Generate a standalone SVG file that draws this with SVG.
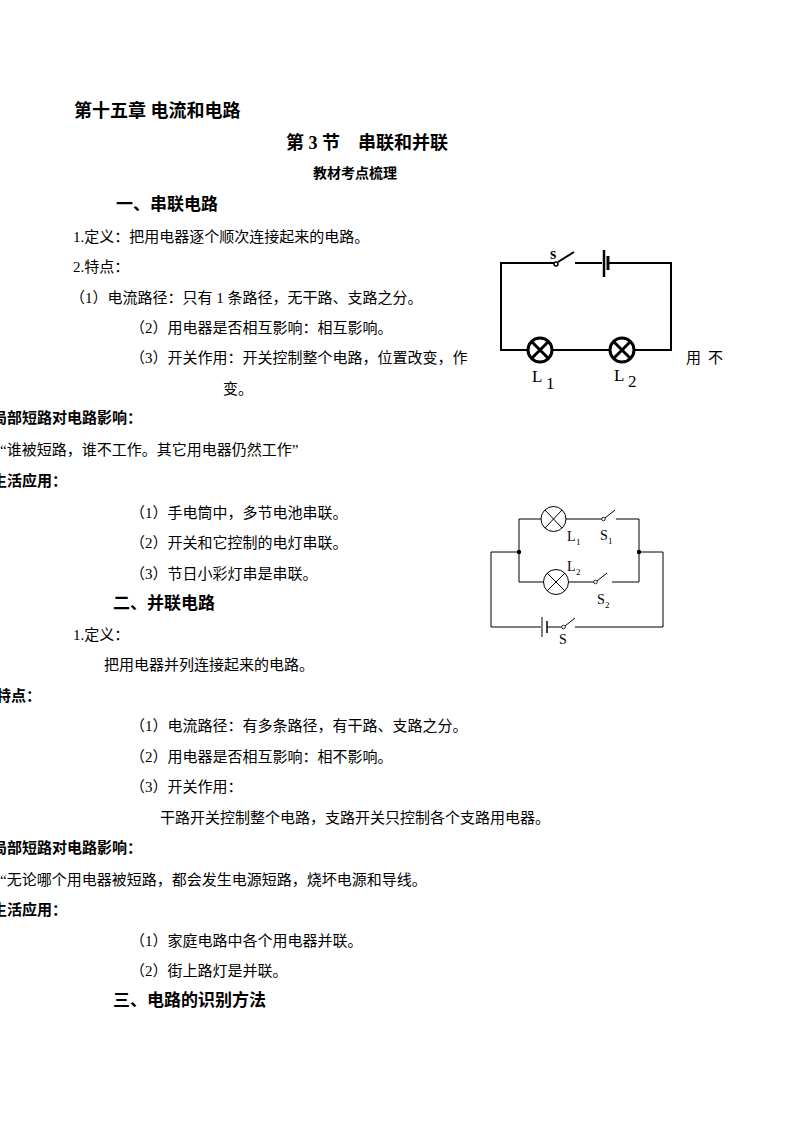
<svg xmlns="http://www.w3.org/2000/svg" width="794" height="1123" viewBox="0 0 794 1123">
<style>
text{font-family:"Liberation Serif","Noto Sans CJK SC",serif;font-size:15px;fill:#000}
.b{font-weight:bold}
.h{font-weight:bold;font-size:18px}
.w{fill:none;stroke:#000;stroke-width:2}
.t{fill:none;stroke:#000;stroke-width:1}
.lt{font-family:"Liberation Serif",serif;font-size:15px}
</style>
<rect width="794" height="1123" fill="#fff"/>
<g id="text">
<text x="74" y="117" class="h">第十五章 电流和电路</text>
<text x="286" y="149" class="h">第 3 节　串联和并联</text>
<text x="313" y="178" class="b" style="font-size:14px">教材考点梳理</text>
<text x="116" y="210" class="b" style="font-size:17px">一、串联电路</text>
<text x="73" y="242">1.定义：把用电器逐个顺次连接起来的电路。</text>
<text x="73" y="272">2.特点：</text>
<text x="70" y="303">（1）电流路径：只有 1 条路径，无干路、支路之分。</text>
<text x="130" y="333">（2）用电器是否相互影响：相互影响。</text>
<text x="130" y="363">（3）开关作用：开关控制整个电路，位置改变，作</text>
<text x="686" y="363" letter-spacing="7">用不</text>
<text x="223" y="394">变。</text>
<text x="-8" y="423" class="b">局部短路对电路影响：</text>
<text x="0" y="455">“谁被短路，谁不工作。其它用电器仍然工作”</text>
<text x="-8" y="486" class="b">生活应用：</text>
<text x="130" y="518">（1）手电筒中，多节电池串联。</text>
<text x="130" y="548">（2）开关和它控制的电灯串联。</text>
<text x="130" y="579">（3）节日小彩灯串是串联。</text>
<text x="113" y="609" class="b" style="font-size:17px">二、并联电路</text>
<text x="73" y="640">1.定义：</text>
<text x="104" y="670">把用电器并列连接起来的电路。</text>
<text x="-4" y="701" class="b">特点：</text>
<text x="130" y="731">（1）电流路径：有多条路径，有干路、支路之分。</text>
<text x="130" y="762">（2）用电器是否相互影响：相不影响。</text>
<text x="130" y="792">（3）开关作用：</text>
<text x="160" y="823">干路开关控制整个电路，支路开关只控制各个支路用电器。</text>
<text x="-8" y="853" class="b">局部短路对电路影响：</text>
<text x="0" y="885">“无论哪个用电器被短路，都会发生电源短路，烧坏电源和导线。</text>
<text x="-8" y="915" class="b">生活应用：</text>
<text x="130" y="946">（1）家庭电路中各个用电器并联。</text>
<text x="130" y="976">（2）街上路灯是并联。</text>
<text x="113" y="1006" class="b" style="font-size:17px">三、电路的识别方法</text>
</g>
<g id="circuit1">
<path class="w" d="M556,263H501V350H527M553,350H609M635,350H671V263H608M575,263H602"/>
<line class="w" x1="558" y1="262" x2="574" y2="252"/>
<circle cx="556" cy="264" r="2" fill="#fff" stroke="#000" stroke-width="1.5"/>
<line x1="604" y1="250" x2="604" y2="277" stroke="#000" stroke-width="2.5"/>
<line x1="608" y1="256" x2="608" y2="270" stroke="#000" stroke-width="3"/>
<g class="w" style="stroke-width:3">
<circle cx="540" cy="350" r="12"/><path d="M532,342L548,358M548,342L532,358"/>
<circle cx="622" cy="350" r="12"/><path d="M614,342L630,358M630,342L614,358"/>
</g>
<text x="550" y="259" class="lt b" style="font-size:16px">s</text>
<text x="532" y="382" class="lt" style="font-size:17px">L</text><text x="546" y="389" class="lt" style="font-size:17px">1</text>
<text x="614" y="381" class="lt" style="font-size:17px">L</text><text x="628" y="387" class="lt" style="font-size:17px">2</text>
</g>
<g id="circuit2">
<path class="t" d="M541,519H519V582H543M566,519H602M616,519H639V582H612M569,582H594M519,552H491V627H541M547,627H562M575,627H663V552H639"/>
<line class="t" x1="605" y1="518" x2="615" y2="510"/>
<line class="t" x1="597" y1="581" x2="607" y2="573"/>
<line class="t" x1="565" y1="626" x2="575" y2="618"/>
<circle cx="603.5" cy="519" r="1.8" fill="#fff" stroke="#000" stroke-width="0.8"/>
<circle cx="595.5" cy="582" r="1.8" fill="#fff" stroke="#000" stroke-width="0.8"/>
<circle cx="563.5" cy="627" r="1.8" fill="#fff" stroke="#000" stroke-width="0.8"/>
<line x1="542" y1="617" x2="542" y2="637" stroke="#000"/>
<line x1="547" y1="621" x2="547" y2="633" stroke="#000" stroke-width="1.5"/>
<circle cx="519" cy="552" r="2.2"/><circle cx="639" cy="552" r="2.2"/>
<g class="t">
<circle cx="553.5" cy="519" r="12.5"/><path d="M545,510L562,528M562,510L545,528"/>
<circle cx="556" cy="582" r="12.5"/><path d="M547,573L565,591M565,573L547,591"/>
</g>
<text x="567" y="541" class="lt" style="font-size:14px">L</text><text x="576" y="545" class="lt" style="font-size:9px">1</text>
<text x="600" y="540" class="lt" style="font-size:14px">S</text><text x="608" y="544" class="lt" style="font-size:9px">1</text>
<text x="567" y="571" class="lt" style="font-size:14px">L</text><text x="576" y="575" class="lt" style="font-size:9px">2</text>
<text x="597" y="604" class="lt" style="font-size:14px">S</text><text x="605" y="608" class="lt" style="font-size:9px">2</text>
<text x="559" y="644" class="lt" style="font-size:14px">S</text>
</g>
</svg>
